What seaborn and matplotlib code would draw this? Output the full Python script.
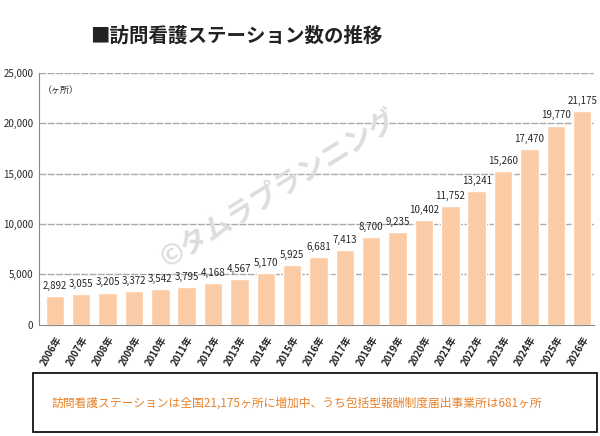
import matplotlib
matplotlib.use("Agg")
import matplotlib.pyplot as plt
import seaborn as sns
import pandas as pd
from matplotlib.patches import Rectangle

years = [f"{y}年" for y in range(2006, 2027)]
counts = [2892, 3055, 3205, 3372, 3542, 3795, 4168, 4567, 5170, 5925, 6681,
          7413, 8700, 9235, 10402, 11752, 13241, 15260, 17470, 19770, 21175]
yticks = [0, 5000, 10000, 15000, 20000, 25000]

sns.set_style("white")
plt.rcParams['font.family'] = ['Noto Sans CJK JP', 'DejaVu Sans']

fig = plt.figure(figsize=(6, 4.36), dpi=100)
ax = fig.add_axes([0.065, 0.255, 0.925, 0.578])
df = pd.DataFrame({"year": years, "count": counts})
sns.barplot(data=df, x="year", y="count", color="#FBCBA5", saturation=1, width=0.7, ax=ax)
ax.set_ylim(0, 25000)
ax.set_xlim(-0.6, 20.45)
ax.set_yticks(yticks)
ax.set_yticklabels([f"{v:,}" for v in yticks], fontsize=7)
ax.tick_params(axis='y', pad=1, length=3)
ax.set_xticks(range(len(years)))
ax.set_xticklabels(years, rotation=60, fontsize=7, ha='right', rotation_mode='anchor', fontweight='bold')
ax.set_xlabel(""); ax.set_ylabel("")
for v in yticks[1:]:
    ax.axhline(v, color="#aaaaaa", lw=1, ls=(0, (5, 1)), zorder=0)
for s in ["top", "right"]:
    ax.spines[s].set_visible(False)
ax.spines["left"].set_color("#888888")
ax.spines["bottom"].set_color("#888888")
for i, v in enumerate(counts):
    ax.text(i, v + 500, f"{v:,}", ha='center', va='bottom', fontsize=7)
ax.text(-0.45, 23000, "（ヶ所）", fontsize=6.5, ha='left')
ax.text(8.5, 13500, "©タムラプランニング", fontsize=20, color="#dddddd", rotation=32,
        ha='center', va='center', zorder=0, fontweight='bold')

fig.text(0.15, 0.905, "■訪問看護ステーション数の推移", fontsize=14, fontweight='bold', color="#222222")
fig.patches.append(Rectangle((0.055, 0.01), 0.94, 0.135, transform=fig.transFigure,
                             fill=False, edgecolor="black", lw=1.2))
fig.text(0.085, 0.075, "訪問看護ステーションは全国21,175ヶ所に増加中、うち包括型報酬制度届出事業所は681ヶ所",
         fontsize=8.5, color="#E8822A", va='center')
fig.savefig("out.png", dpi=100)
